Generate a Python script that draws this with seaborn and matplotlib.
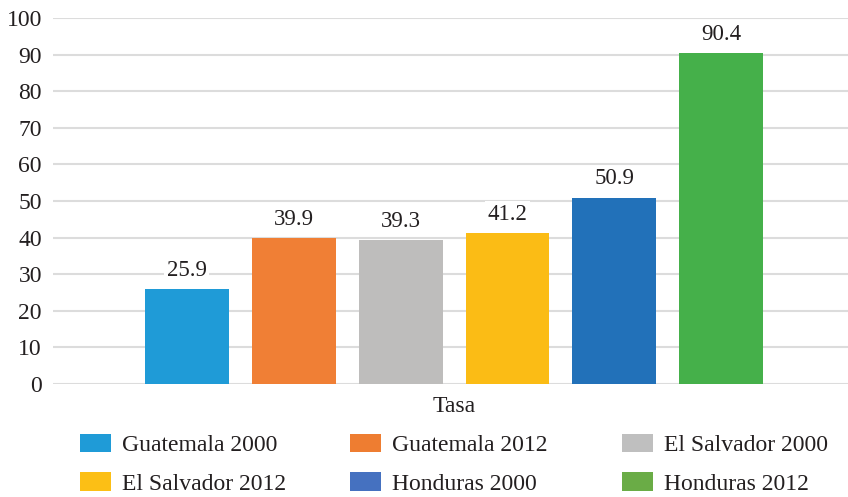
import matplotlib
matplotlib.use("Agg")
import matplotlib.pyplot as plt
import seaborn as sns
import pandas as pd
from matplotlib.patches import Patch

categories = ["Tasa"]
series = ["Guatemala 2000", "Guatemala 2012", "El Salvador 2000",
          "El Salvador 2012", "Honduras 2000", "Honduras 2012"]
values = [25.9, 39.9, 39.3, 41.2, 50.9, 90.4]
colors = ["#1f9bd7", "#f07f35", "#bebdbc", "#fbbc15", "#2271b9", "#45b04a"]
legend_colors = ["#1f9bd7", "#ee7d31", "#bfbfbf", "#fcbf15", "#4571c0", "#6aac46"]
yticks = [0, 10, 20, 30, 40, 50, 60, 70, 80, 90, 100]

df = pd.DataFrame({"cat": categories * len(series), "serie": series, "valor": values})

sns.set_theme(style="white")
plt.rcParams["font.family"] = ["Liberation Serif", "DejaVu Serif"]
txt = "#231f20"
fs = 17

fig = plt.figure(figsize=(8.48, 4.97), dpi=100)
ax = fig.add_axes([0.0625, 0.2274, 0.9458, 0.7364])
sns.barplot(data=df, x="cat", y="valor", hue="serie", hue_order=series,
            palette=colors, width=0.8, gap=0.215, ax=ax, legend=False,
            saturation=1, linewidth=0)

ax.set_ylim(0, 100)
ax.set_yticks(yticks)
ax.yaxis.grid(True, color="#dcdcdc", linewidth=1.5)
ax.set_axisbelow(True)
for s in ax.spines.values():
    s.set_visible(False)
ax.tick_params(axis="both", length=0, labelsize=fs, colors=txt)
ax.tick_params(axis="y", pad=8)
ax.tick_params(axis="x", pad=9)
ax.set_xlabel("")
ax.set_ylabel("")

for cont in ax.containers:
    ax.bar_label(cont, fmt="%.1f", padding=6, fontsize=16.5, color=txt,
                 bbox=dict(facecolor="white", edgecolor="none", pad=2))

# legend laid out row by row in three columns
col_x = [80, 350, 622]
top_y = 434
for c in range(3):
    idx = [c, c + 3]
    handles = [Patch(facecolor=legend_colors[i], edgecolor="none") for i in idx]
    labels = [series[i] for i in idx]
    leg = fig.legend(handles, labels, loc="upper left",
                     bbox_to_anchor=(col_x[c] / 848, 1 - top_y / 497),
                     frameon=False, fontsize=fs, handlelength=1.31,
                     handleheight=0.82, handletextpad=0.48, labelspacing=0.68,
                     borderpad=0, borderaxespad=0)
    for t in leg.get_texts():
        t.set_color(txt)

fig.savefig("out.png", dpi=100)
